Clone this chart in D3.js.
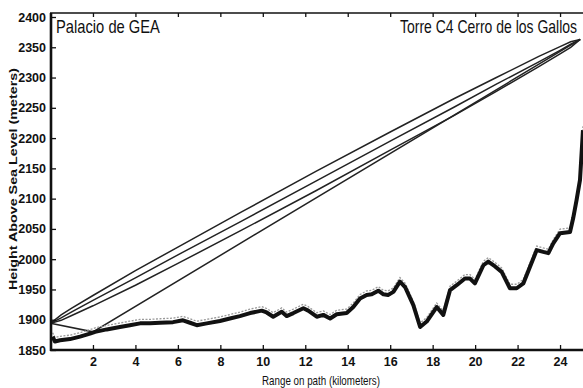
<!DOCTYPE html>
<html>
<head>
<meta charset="utf-8">
<script src="https://cdn.jsdelivr.net/npm/d3@7"></script>
<style>
  body { margin: 0; background: #fff; }
  svg { display: block; }
  .lbl { font-family: "Liberation Sans Narrow", "Arial Narrow", "Liberation Sans", Arial, sans-serif; fill: #111; }
</style>
</head>
<body>
<div id="chart"></div>
<script>
// terrain profile (km along path, metres above sea level)
const terrainKm = [0.10, 0.21, 0.45, 0.92, 1.39, 1.86, 2.10, 2.65, 3.27, 3.74, 4.22, 4.69, 5.16, 5.77, 6.24, 6.57, 6.89, 7.36, 7.98, 8.45, 8.92, 9.40, 9.95, 10.18, 10.49, 10.89, 11.12, 11.44, 11.91, 12.14, 12.54, 12.85, 13.17, 13.48, 13.95, 14.26, 14.58, 14.89, 15.13, 15.44, 15.68, 15.90, 16.15, 16.46, 16.70, 17.09, 17.41, 17.72, 18.19, 18.50, 18.82, 19.13, 19.52, 19.76, 19.99, 20.39, 20.62, 20.94, 21.25, 21.64, 21.96, 22.27, 22.59, 22.90, 23.21, 23.45, 23.68, 24.00, 24.47, 24.62, 24.78, 24.94, 25.08];
const terrainM = [1872, 1864, 1866, 1868, 1872, 1877, 1880, 1884, 1888, 1891, 1894, 1894, 1895, 1896, 1899, 1895, 1891, 1894, 1898, 1902, 1906, 1911, 1915, 1912, 1905, 1913, 1906, 1911, 1919, 1915, 1905, 1908, 1902, 1909, 1911, 1921, 1935, 1941, 1942, 1948, 1942, 1941, 1946, 1963, 1954, 1924, 1888, 1897, 1921, 1908, 1949, 1957, 1968, 1968, 1960, 1990, 1996, 1988, 1979, 1952, 1952, 1960, 1988, 2015, 2012, 2010, 2026, 2043, 2045, 2068, 2098, 2131, 2213];

// ray lines between the two sites
const rayKm = [0, 0.5, 1, 2, 4, 6, 9, 12.5, 16, 19, 21, 23, 24, 24.5, 24.95];
const losM = [1894, 1903, 1913, 1932, 1969, 2007, 2063, 2129, 2195, 2251, 2289, 2326, 2345, 2355, 2363];
const upperM = [1894, 1908, 1919, 1940, 1981, 2020, 2078, 2145, 2210, 2265, 2300, 2335, 2351, 2359, 2363];
const lowerM = [1894, 1899, 1907, 1923, 1957, 1993, 2048, 2113, 2180, 2237, 2277, 2318, 2339, 2350, 2363];
const grazeKm = [0, 2.0, 24.95];
const grazeM = [1894, 1880, 2363];

const xTicks = [2, 4, 6, 8, 10, 12, 14, 16, 18, 20, 22, 24];
const yTicks = [1850, 1900, 1950, 2000, 2050, 2100, 2150, 2200, 2250, 2300, 2350, 2400];

const W = 583, H = 388;
const svg = d3.select("#chart").append("svg").attr("width", W).attr("height", H);

const x = d3.scaleLinear().domain([0, 25.1]).range([50.5, 583.4]);
const y = d3.scaleLinear().domain([1850, 2400]).range([350, 17]);

const line = d3.line().x(d => x(d[0])).y(d => y(d[1]));
const zip = (a, b) => a.map((v, i) => [v, b[i]]);

// rays
const rays = svg.append("g").attr("fill", "none").attr("stroke", "#222").attr("stroke-width", 1.5);
[upperM, losM, lowerM].forEach(s => rays.append("path").attr("d", line(zip(rayKm, s))));
rays.append("path").attr("d", line(zip(grazeKm, grazeM)));

// terrain: light dotted trace just above, heavy line on top
const terr = zip(terrainKm, terrainM);
svg.append("path").attr("d", line(terr)).attr("transform", "translate(0,-4)")
  .attr("fill", "none").attr("stroke", "#9a9a9a").attr("stroke-width", 1.3).attr("stroke-dasharray", "2,1.5");
svg.append("path").attr("d", line(terr))
  .attr("fill", "none").attr("stroke", "#111").attr("stroke-width", 4).attr("stroke-linejoin", "round");

// axes
const gx = svg.append("g").attr("transform", "translate(0,350)")
  .call(d3.axisBottom(x).tickValues(xTicks).tickSize(-5).tickSizeOuter(0).tickPadding(7).tickFormat(d3.format("d")));
const gy = svg.append("g").attr("transform", "translate(51,0)")
  .call(d3.axisLeft(y).tickValues(yTicks).tickSize(-5).tickSizeOuter(0).tickPadding(5).tickFormat(d3.format("d")));
const gt = svg.append("g").attr("transform", "translate(0,13)")
  .call(d3.axisTop(x).tickValues(xTicks).tickSize(-4).tickSizeOuter(0).tickFormat(""));
[gx, gy, gt].forEach(g => {
  g.select(".domain").remove();
  g.selectAll(".tick line").attr("stroke", "#111").attr("stroke-width", 1.3);
  g.selectAll("text").attr("class", "lbl").attr("font-size", 12.5).attr("font-weight", "bold").attr("fill", "#111");
});

// frame lines
svg.append("line").attr("x1", 51).attr("x2", 51).attr("y1", 13).attr("y2", 351).attr("stroke", "#111").attr("stroke-width", 2.6);
svg.append("line").attr("x1", 50).attr("x2", W).attr("y1", 350).attr("y2", 350).attr("stroke", "#111").attr("stroke-width", 2.6);
svg.append("line").attr("x1", 50).attr("x2", W).attr("y1", 13).attr("y2", 13).attr("stroke", "#111").attr("stroke-width", 1.6);

// site names (squeezed horizontally like the original)
const fitText = (sel, w) => {
  const nat = sel.node().getComputedTextLength();
  const k = w / nat;
  sel.attr("transform", `translate(${sel.attr("x")},${sel.attr("y")}) scale(${k},1)`).attr("x", 0).attr("y", 0);
};
const t1 = svg.append("text").attr("class", "lbl").attr("x", 56).attr("y", 33).attr("font-size", 18).text("Palacio de GEA");
fitText(t1, 104);
const t2 = svg.append("text").attr("class", "lbl").attr("x", 400).attr("y", 33).attr("font-size", 18).text("Torre C4 Cerro de los Gallos");
fitText(t2, 177);

// axis titles
const t3 = svg.append("text").attr("class", "lbl").attr("x", 262).attr("y", 385).attr("font-size", 13).text("Range on path (kilometers)");
fitText(t3, 118);
svg.append("text").attr("transform", "translate(17,290) rotate(-90)")
  .attr("font-family", "Liberation Sans, Arial, sans-serif").attr("font-weight", "bold").attr("font-size", 11)
  .attr("textLength", 222).attr("lengthAdjust", "spacingAndGlyphs").attr("fill", "#111")
  .text("Height Above Sea Level (meters)");
</script>
</body>
</html>
